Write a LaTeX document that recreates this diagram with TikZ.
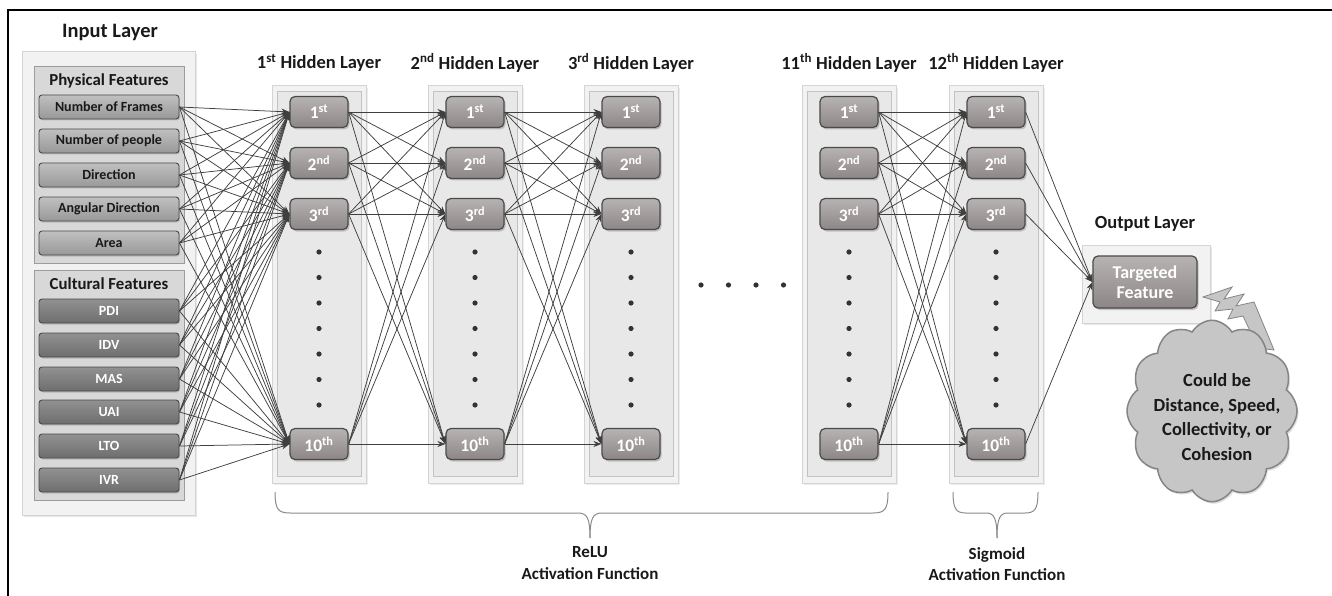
\documentclass[tikz,border=0pt]{standalone}
\usepackage{fontspec}
\setmainfont{Carlito}
\usetikzlibrary{arrows.meta,shapes.symbols,shadows,calc}
\definecolor{lineC}{HTML}{3F3F3F}
\definecolor{nodeTop}{HTML}{B8B3B3}
\definecolor{nodeBot}{HTML}{8C8686}
\definecolor{nodeEdge}{HTML}{4A4A4A}
\definecolor{physTop}{HTML}{C0C0C0}
\definecolor{physBot}{HTML}{989898}
\definecolor{cultTop}{HTML}{919191}
\definecolor{cultBot}{HTML}{6E6E6E}
\definecolor{grpFill}{HTML}{D8D8D8}
\definecolor{grpEdge}{HTML}{9C9C9C}
\definecolor{outFill}{HTML}{F2F2F2}
\definecolor{outEdge}{HTML}{D4D4D4}
\definecolor{inFill}{HTML}{E8E8E8}
\definecolor{inEdge}{HTML}{C2C2C2}
\definecolor{cloudFill}{HTML}{C6C6C6}
\definecolor{cloudEdge}{HTML}{858585}
\definecolor{braceC}{HTML}{8A8A8A}
\begin{document}
\begin{tikzpicture}[x=1pt,y=-1pt,
  ttl/.style={font=\fontsize{18.5}{20}\selectfont\bfseries, text=black!90, inner sep=0},
  lbl/.style={font=\fontsize{17}{21.5}\selectfont\bfseries, text=black!90, align=center, inner sep=0},
  featbase/.style={rounded corners=3pt, minimum width=140pt, minimum height=24pt, inner sep=0,
    font=\fontsize{14}{16}\selectfont\bfseries, line width=0.9pt,
    drop shadow={opacity=0.35, shadow xshift=1pt, shadow yshift=-1.5pt}},
  physfeat/.style={featbase, draw=nodeEdge, top color=physTop, bottom color=physBot, text=black!90},
  cultfeat/.style={featbase, draw=nodeEdge, top color=cultTop, bottom color=cultBot, text=white},
  grp/.style={draw=grpEdge, fill=grpFill, line width=1pt, inner sep=0},
  hdr/.style={font=\fontsize{16.8}{18}\selectfont\bfseries, text=black!90, inner sep=0},
  hnode/.style={rounded corners=5pt, minimum width=58pt, minimum height=31pt, inner sep=0,
    draw=nodeEdge, line width=1.2pt, top color=nodeTop, bottom color=nodeBot, text=white,
    font=\fontsize{17.5}{19}\selectfont\bfseries,
    drop shadow={opacity=0.4, shadow xshift=1.5pt, shadow yshift=-2pt}},
  colout/.style={draw=outEdge, fill=outFill, line width=1pt, minimum width=94pt, minimum height=397pt, inner sep=0,
    drop shadow={opacity=0.15, shadow xshift=1.5pt, shadow yshift=-2pt}},
  colin/.style={draw=inEdge, fill=inFill, line width=1pt, minimum width=84pt, minimum height=385pt, inner sep=0},
  conn/.style={draw=lineC, line width=0.75pt, -{Stealth[length=8pt,width=6pt]}},
  dot/.style={fill=black!80},
  bracepath/.style={draw=braceC, line width=1pt}
]
\useasboundingbox (0,0) rectangle (1332,596);
% frame
\draw[line width=2.2pt] (8,596) -- (8,10) -- (1332,10);

% ---------- input layer ----------
\node[ttl, font=\fontsize{20.5}{22}\selectfont\bfseries] (inttl) at (110,32) {Input Layer};
\node[draw=outEdge, fill=outFill, line width=1pt, minimum width=173pt, minimum height=463pt, inner sep=0,
  drop shadow={opacity=0.2, shadow xshift=1.5pt, shadow yshift=-2pt}] (inbox) at (108.5,283.5) {};
\node[grp, minimum width=150pt, minimum height=196pt] (physgrp) at (109,165) {};
\node[grp, minimum width=150pt, minimum height=230pt] (cultgrp) at (109,385) {};
\node[hdr] (physhdr) at (109,81) {Physical Features};
\node[hdr] (culthdr) at (109,284) {Cultural Features};

\foreach \i/\y/\t in {1/107/Number of Frames, 2/141/Number of people, 3/175/Direction, 4/209/Angular Direction, 5/243/Area}
  \node[physfeat] (f\i) at (109,\y) {\t};
\foreach \i/\y/\t in {6/311/PDI, 7/345/IDV, 8/379/MAS, 9/412/UAI, 10/446/LTO, 11/480/IVR}
  \node[cultfeat] (f\i) at (109,\y) {\t};

% ---------- hidden layers ----------
\foreach \l/\x/\s in {1/319/st, 2/475/nd, 3/631/rd, 11/849/th, 12/996/th} {
  \node[ttl] (t\l) at (\x,63) {\l\textsuperscript{\s} Hidden Layer};
  \node[colout] (co\l) at (\x,284.5) {};
  \node[colin] (ci\l) at (\x,284) {};
  \node[hnode] (L\l n1) at (\x,112) {1\textsuperscript{st}};
  \node[hnode] (L\l n2) at (\x,163) {2\textsuperscript{nd}};
  \node[hnode] (L\l n3) at (\x,214) {3\textsuperscript{rd}};
  \node[hnode] (L\l n4) at (\x,444) {10\textsuperscript{th}};
  \foreach \y in {252,277.5,303,328.5,354,379.5,405}
    \fill[dot] (\x,\y) circle (2.6);
}
% horizontal ellipsis
\foreach \x in {701,728.5,756,783.5}
  \fill[dot] (\x,285) circle (2.6);

% ---------- output layer ----------
\node[ttl] (outttl) at (1145,224) {Output Layer};
\node[draw=outEdge, fill=outFill, line width=1pt, minimum width=128pt, minimum height=78pt, inner sep=0,
  drop shadow={opacity=0.2, shadow xshift=1.5pt, shadow yshift=-2pt}] (outbox) at (1146,284) {};
\node[hnode, minimum width=104pt, minimum height=52pt, align=center,
  font=\fontsize{18}{20}\selectfont\bfseries] (out) at (1145,282) {Targeted\\Feature};

% ---------- connections ----------
\foreach \i in {1,...,11}
  \foreach \j in {1,...,4}
    \draw[conn] (f\i.east) -- (L1n\j.west);
\foreach \a/\b in {1/2,2/3,11/12}
  \foreach \i in {1,...,4}
    \foreach \j in {1,...,4}
      \draw[conn] (L\a n\i.east) -- (L\b n\j.west);
\foreach \i in {1,...,4}
  \draw[conn] (L12n\i.east) -- (out.west);

% ---------- callout bolt ----------
\filldraw[fill=cloudFill, draw=cloudEdge, line width=0.8pt, line join=miter]
  (1203,297) -- (1232,287) -- (1224,299) -- (1244,294) -- (1236,306) -- (1254,302)
  -- (1274,350) -- (1258,348) -- (1243,316) -- (1228,319) -- (1233,309) -- (1215,311) -- (1220,302) -- cycle;

% ---------- cloud ----------
\begin{scope}[shift={(1212,411)}, yscale=1.08]
\node[cloud, cloud puffs=12, cloud puff arc=115, cloud ignores aspect, draw=cloudEdge, line width=1.5pt,
  fill=cloudFill, minimum width=170pt, minimum height=168pt, inner sep=0, transform shape,
  drop shadow={opacity=0.25, shadow xshift=1.5pt, shadow yshift=-2pt}] (cl) at (0,0) {};
\end{scope}
\node[font=\fontsize{18.5}{24.5}\selectfont\bfseries, align=center, text=black!90, inner sep=0] (cltxt) at (1217,417)
  {Could be\\Distance, Speed,\\Collectivity, or\\Cohesion};

% ---------- braces ----------
\coordinate (b1l) at (275,492);
\coordinate (b1r) at (888,492);
\coordinate (b1t) at (590,538);
\draw[bracepath] (b1l) .. controls (275,509) and (278,513) .. (290,513) -- (578,513)
  .. controls (587,513) and (590,518) .. (b1t);
\draw[bracepath] (b1r) .. controls (888,509) and (885,513) .. (873,513) -- (602,513)
  .. controls (593,513) and (590,518) .. (b1t);
\coordinate (b2l) at (953,492);
\coordinate (b2r) at (1038,492);
\coordinate (b2t) at (997,538);
\draw[bracepath] (b2l) .. controls (953,509) and (956,513) .. (966,513) -- (986,513)
  .. controls (994,513) and (997,518) .. (b2t);
\draw[bracepath] (b2r) .. controls (1038,509) and (1035,513) .. (1025,513) -- (1008,513)
  .. controls (1000,513) and (997,518) .. (b2t);

\node[lbl] (relu) at (590,563) {ReLU\\Activation Function};
\node[lbl] (sigm) at (997,564) {Sigmoid\\Activation Function};
\end{tikzpicture}
\end{document}
